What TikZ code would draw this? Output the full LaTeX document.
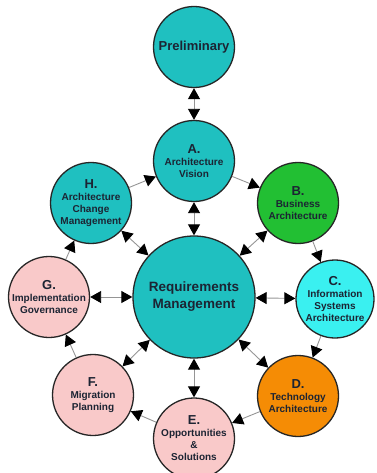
\documentclass[tikz,border=0pt]{standalone}
\usepackage{fontspec}
\setmainfont{Liberation Sans}
\usetikzlibrary{arrows.meta}
\definecolor{teal1}{HTML}{1FC0C0}
\definecolor{green1}{HTML}{22BF33}
\definecolor{cyan1}{HTML}{3AF0F0}
\definecolor{orange1}{HTML}{F58C05}
\definecolor{pink1}{HTML}{F9C9C9}
\definecolor{txt}{HTML}{1C2433}
\definecolor{conn}{HTML}{959595}
\tikzset{
  phase/.style={circle, draw=black!85, line width=1.3pt, minimum size=81pt, inner sep=0pt,
    align=center, text=txt, font=\fontsize{10}{12}\selectfont\bfseries},
  bigphase/.style={phase, minimum size=122pt, font=\fontsize{13.5}{17}\selectfont\bfseries},
  tipx/.tip={Triangle[length=11pt,width=12pt,color=black,fill=black]},
  both/.style={draw=conn, line width=0.9pt, {tipx}-{tipx}},
  cyc/.style={draw=conn, line width=0.9pt, -{tipx}},
}
\newcommand{\lett}[1]{{\fontsize{13}{12}\selectfont #1}}
\begin{document}
\begin{tikzpicture}[x=1pt,y=-1pt]
\useasboundingbox (0,0) rectangle (376,473);
\clip (0,0) rectangle (376,473);
\node[phase, fill=teal1, font=\fontsize{13}{15}\selectfont\bfseries] (P) at (194,47) {Preliminary};
\node[phase, fill=teal1] (A) at (194,161) {\lett{A.}\\Architecture\\Vision};
\node[phase, fill=green1] (B) at (298,203) {\lett{B.}\\Business\\Architecture};
\node[phase, fill=cyan1, minimum size=78pt] (C) at (335,299) {\lett{C.}\\Information\\Systems\\Architecture};
\node[phase, fill=orange1] (D) at (298,396) {\lett{D.}\\Technology\\Architecture};
\node[phase, fill=pink1] (E) at (194,438.5) {\lett{E.}\\Opportunities\\\&\\Solutions};
\node[phase, fill=pink1] (F) at (93,395) {\lett{F.}\\Migration\\Planning};
\node[phase, fill=pink1] (G) at (49,297) {\lett{G.}\\Implementation\\Governance};
\node[phase, fill=teal1] (H) at (91,203) {\lett{H.}\\Architecture\\Change\\Management};
\node[bigphase, fill=teal1] (R) at (194,297) {Requirements\\Management};
\draw[both] (P) -- (A);
\draw[both] (A) -- (R);
\foreach \n in {B,C,D,E,F,G,H} \draw[both] (R) -- (\n);
\draw[cyc] (A) -- (B);
\draw[cyc] (B) -- (C);
\draw[cyc] (C) -- (D);
\draw[cyc] (D) -- (E);
\draw[cyc] (E) -- (F);
\draw[cyc] (F) -- (G);
\draw[cyc] (G) -- (H);
\draw[cyc] (H) -- (A);
\end{tikzpicture}
\end{document}
